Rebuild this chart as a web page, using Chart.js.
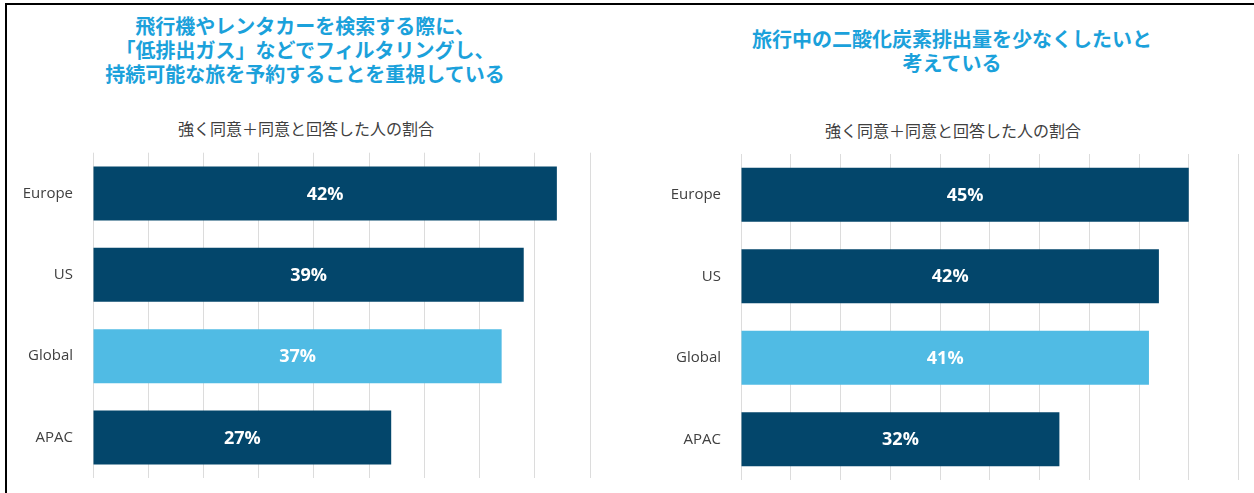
<!DOCTYPE html>
<html>
<head>
<meta charset="utf-8">
<script src="https://cdn.jsdelivr.net/npm/chart.js@4"></script>
<style>
html, body { margin: 0; padding: 0; background: #fff; overflow: hidden; }
body { width: 1254px; height: 493px; position: relative; font-family: 'Noto Sans CJK JP', sans-serif; }
.frame { position: absolute; left: 5px; top: 3px; width: 1300px; height: 600px; border-left: 2px solid #000; border-top: 2px solid #000; }
.title { position: absolute; width: 600px; text-align: center; color: #1ba1db; font-weight: bold; font-size: 20px; line-height: 24px; }
.sub { position: absolute; width: 600px; text-align: center; color: #404040; font-size: 16px; line-height: 20px; }
.box { position: absolute; top: 140px; width: 600px; height: 350px; }
</style>
</head>
<body>
<div class="frame"></div>

<div class="title" style="left:5px; top:14px">飛行機やレンタカーを検索する際に、<br>「低排出ガス」などでフィルタリングし、<br>持続可能な旅を予約することを重視している</div>
<div class="sub" style="left:6px; top:118px">強く同意＋同意と回答した人の割合</div>
<div class="box" style="left:0px"><canvas id="leftChart"></canvas></div>

<div class="title" style="left:652px; top:27px">旅行中の二酸化炭素排出量を少なくしたいと<br>考えている</div>
<div class="sub" style="left:653px; top:120px">強く同意＋同意と回答した人の割合</div>
<div class="box" style="left:648px"><canvas id="rightChart"></canvas></div>

<script>
// 強く同意＋同意の割合 (%)
const categories = ['Europe', 'US', 'Global', 'APAC'];
const lowEmissionFilter = [42, 39, 37, 27];
const reduceCo2 = [45, 42, 41, 32];
const leftMax = 45;
const rightMax = 50;
const tickStep = 5;

const navy = '#03466b';
const lightBlue = '#50bbe4';

// white % labels in the middle of each bar
const valueLabels = {
	id: 'valueLabels',
	afterDatasetsDraw(chart) {
		const ctx = chart.ctx;
		const values = chart.data.datasets[0].data;
		ctx.save();
		ctx.fillStyle = '#fff';
		ctx.font = 'bold 18px "Open Sans"';
		ctx.textAlign = 'center';
		ctx.textBaseline = 'middle';
		chart.getDatasetMeta(0).data.forEach((bar, i) => {
			ctx.fillText(values[i] + '%', (bar.x + bar.base) / 2, bar.y + 1);
		});
		ctx.restore();
	}
};

function makeChart(id, values, max, padTop, padBottom, padRight) {
	const ctx = document.getElementById(id).getContext('2d');
	return new Chart(ctx, {
		type: 'bar',
		data: {
			labels: categories,
			datasets: [{
				data: values,
				backgroundColor: categories.map(c => c === 'Global' ? lightBlue : navy),
				borderWidth: 0,
				barPercentage: 1,
				categoryPercentage: 0.663,
			}],
		},
		options: {
			indexAxis: 'y',
			responsive: true,
			maintainAspectRatio: false,
			animation: false,
			layout: { padding: { top: padTop, bottom: padBottom, left: 0, right: padRight } },
			plugins: { legend: { display: false }, tooltip: { enabled: false } },
			scales: {
				x: {
					min: 0,
					max: max,
					ticks: { stepSize: tickStep, display: false },
					grid: { color: '#dcdcdc', lineWidth: 1, drawTicks: false },
					border: { display: false },
					afterFit(scale) { scale.height = 0; },
				},
				y: {
					grid: { display: false, drawTicks: false },
					border: { display: false },
					ticks: { color: '#404040', font: { family: 'Open Sans', size: 15 }, padding: 20 },
					afterFit(scale) {
						scale.width = 93;
						scale.paddingTop = 0;
						scale.paddingBottom = 0;
					},
				},
			},
		},
		plugins: [valueLabels],
	});
}

makeChart('leftChart', lowEmissionFilter, leftMax, 12.7, 11.7, 10);
makeChart('rightChart', reduceCo2, rightMax, 14, 10, 9.5);
</script>
</body>
</html>
